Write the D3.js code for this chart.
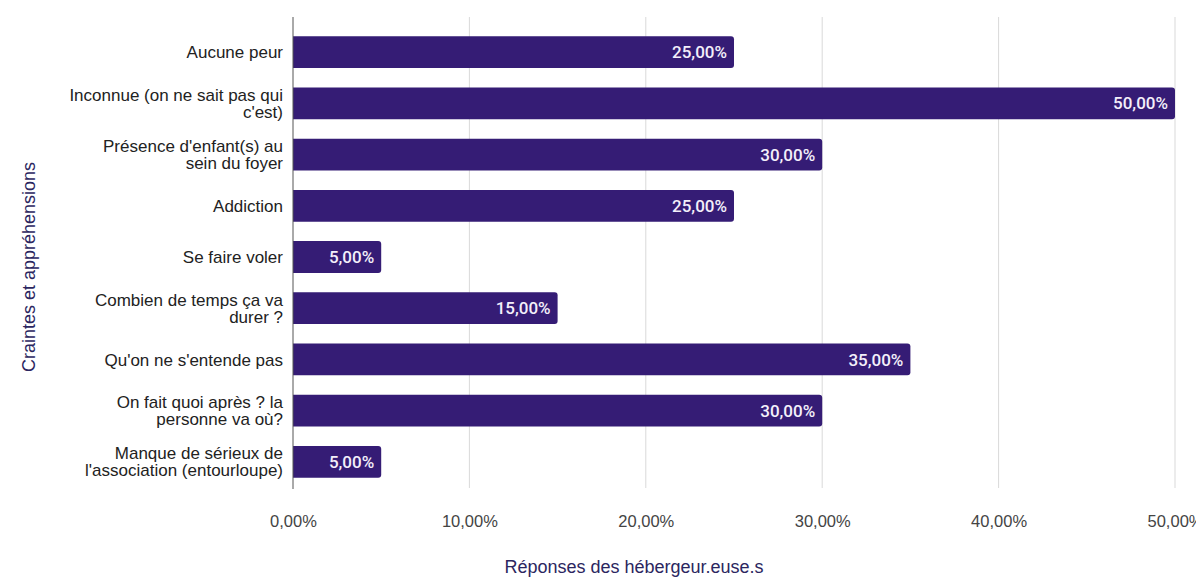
<!DOCTYPE html>
<html>
<head>
<meta charset="utf-8">
<script src="https://cdn.jsdelivr.net/npm/d3@7"></script>
<style>
  html, body { margin: 0; padding: 0; background: #ffffff; }
  svg { display: block; }
</style>
</head>
<body>
<svg id="chart" width="1196" height="578"></svg>
<script>
const categories = [
  ["Aucune peur"],
  ["Inconnue (on ne sait pas qui", "c'est)"],
  ["Présence d'enfant(s) au", "sein du foyer"],
  ["Addiction"],
  ["Se faire voler"],
  ["Combien de temps ça va", "durer ?"],
  ["Qu'on ne s'entende pas"],
  ["On fait quoi après ? la", "personne va où?"],
  ["Manque de sérieux de", "l'association (entourloupe)"]
];
const values = [25, 50, 30, 25, 5, 15, 35, 30, 5];
const tickValues = [0, 10, 20, 30, 40, 50];
const tickLabels = ["0,00%", "10,00%", "20,00%", "30,00%", "40,00%", "50,00%"];
const xTitle = "Réponses des hébergeur.euse.s";
const yTitle = "Craintes et appréhensions";

(function () {
const svg = d3.select("#chart");
const plotLeft = 293, plotRight = 1175, plotTop = 17, plotBottom = 488;

const x = d3.scaleLinear().domain([0, 50]).range([plotLeft, plotRight]);
const y = d3.scaleBand()
  .domain(d3.range(categories.length))
  .range([26, 488])
  .paddingInner(0.38)
  .paddingOuter(0.2);

const fmt = v => v.toFixed(2).replace(".", ",") + "%";

// gridlines
svg.append("g").selectAll("line")
  .data(tickValues.filter(d => d > 0))
  .join("line")
  .attr("x1", d => x(d)).attr("x2", d => x(d))
  .attr("y1", plotTop).attr("y2", plotBottom)
  .attr("stroke", "#d9d9d9").attr("stroke-width", 1);

// x axis tick labels
const xAxis = d3.axisBottom(x).tickValues(tickValues)
  .tickFormat((d, i) => tickLabels[i]).tickSize(0).tickPadding(0);
const gx = svg.append("g").attr("transform", `translate(0,${plotBottom})`).call(xAxis);
gx.select(".domain").remove();
gx.selectAll("text")
  .attr("y", 39)
  .attr("dy", 0)
  .attr("fill", "#444")
  .style("font-family", "'Liberation Sans', Arial, sans-serif")
  .style("font-size", "16.5px");

// bars
const barH = y.bandwidth();
svg.append("g").selectAll("path")
  .data(values)
  .join("path")
  .attr("fill", "#351c75")
  .attr("d", (d, i) => {
    const x0 = x(0), x1 = x(d), y0 = y(i), h = barH, r = 3;
    return `M${x0},${y0} H${x1 - r} Q${x1},${y0} ${x1},${y0 + r} V${y0 + h - r} Q${x1},${y0 + h} ${x1 - r},${y0 + h} H${x0} Z`;
  });

// value labels
svg.append("g").selectAll("text")
  .data(values)
  .join("text")
  .attr("x", d => x(d) - 7)
  .attr("y", (d, i) => y(i) + barH / 2)
  .attr("dy", "0.36em")
  .attr("text-anchor", "end")
  .attr("fill", "#f3effa")
  .style("font-family", "Roboto, 'Open Sans', sans-serif")
  .style("font-size", "17px")
  .style("font-weight", "500")
  .text(d => fmt(d));

// y axis line
svg.append("line")
  .attr("x1", plotLeft).attr("x2", plotLeft)
  .attr("y1", plotTop).attr("y2", plotBottom + 1)
  .attr("stroke", "#555").attr("stroke-width", 1);

// category labels
const lineH = 17;
const cat = svg.append("g").selectAll("text")
  .data(categories)
  .join("text")
  .attr("text-anchor", "end")
  .attr("fill", "#222")
  .style("font-family", "'Liberation Sans', Arial, sans-serif")
  .style("font-size", "17px");
cat.each(function(lines, i) {
  const cy = y(i) + barH / 2;
  const startY = cy - (lines.length - 1) * lineH / 2;
  d3.select(this).selectAll("tspan")
    .data(lines)
    .join("tspan")
    .attr("x", 283)
    .attr("y", (d, j) => startY + j * lineH)
    .attr("dy", "0.36em")
    .text(d => d);
});

// axis titles
svg.append("text")
  .attr("x", 634).attr("y", 573)
  .attr("text-anchor", "middle")
  .attr("fill", "#2b2660")
  .style("font-family", "'Liberation Sans', Arial, sans-serif")
  .style("font-size", "18px")
  .text(xTitle);

svg.append("text")
  .attr("transform", "translate(35,267) rotate(-90)")
  .attr("text-anchor", "middle")
  .attr("fill", "#2b2660")
  .style("font-family", "'Liberation Sans', Arial, sans-serif")
  .style("font-size", "18px")
  .text(yTitle);
})();
</script>
</body>
</html>
